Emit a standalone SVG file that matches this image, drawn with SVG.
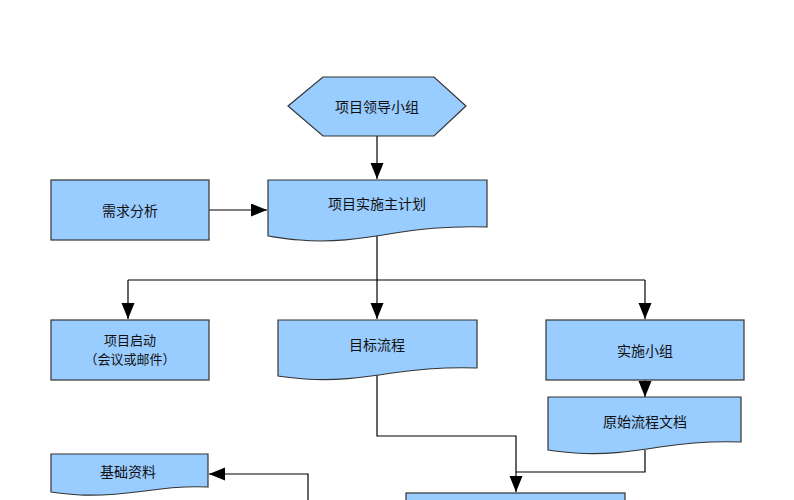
<svg xmlns="http://www.w3.org/2000/svg" width="794" height="500" viewBox="0 0 794 500">
<style>
.shape{fill:#99CCFF;stroke:#333333;stroke-width:1.2}
.lbl{font-family:"Noto Sans CJK SC","Noto Sans",sans-serif;font-size:14px;fill:#111111;text-anchor:middle;dominant-baseline:central}
.conn{fill:none;stroke:#000000;stroke-width:1.2}
</style>
<defs>
<marker id="arr" markerUnits="userSpaceOnUse" markerWidth="17" markerHeight="14" refX="16" refY="6.5" orient="auto">
<path d="M0,0 L16,6.5 L0,13 z" fill="#000000"/>
</marker>
</defs>
<rect width="794" height="500" fill="#ffffff"/>
<g id="connectors">
<path class="conn" d="M377,136 L377,179" marker-end="url(#arr)"/>
<path class="conn" d="M209,210 L267,210" marker-end="url(#arr)"/>
<path class="conn" d="M377,235 L377,280 M128,280 L645,280"/>
<path class="conn" d="M128,280 L128,319" marker-end="url(#arr)"/>
<path class="conn" d="M377,280 L377,319" marker-end="url(#arr)"/>
<path class="conn" d="M645,280 L645,319" marker-end="url(#arr)"/>
<path class="conn" d="M645,380 L645,397" marker-end="url(#arr)"/>
<path class="conn" d="M377,373 L377,436 L516,436 L516,492" marker-end="url(#arr)"/>
<path class="conn" d="M645,450 L645,472 L516,472"/>
<path class="conn" d="M308,500 L308,474 L209,474" marker-end="url(#arr)"/>
</g>
<g id="n_leader">
<polygon class="shape" points="288,106 323,77 434,77 466,106 434,136 323,136"/>
<text class="lbl" x="377" y="106">项目领导小组</text>
</g>
<g id="n_demand">
<rect class="shape" x="51" y="180" width="158" height="60"/>
<text class="lbl" x="130" y="210">需求分析</text>
</g>
<g id="n_plan">
<path class="shape" d="M268,180 L487,180 L487,227 C455,226 425,228 395,233 C360,239 330,243 300,240 C285,239 275,237 268,236 Z"/>
<text class="lbl" x="377" y="203">项目实施主计划</text>
</g>
<g id="n_start">
<rect class="shape" x="51" y="320" width="158" height="60"/>
<text class="lbl" x="130" y="339" style="font-size:13px">项目启动</text>
<text class="lbl" x="130" y="358.5" style="font-size:13px">（会议或邮件）</text>
</g>
<g id="n_target">
<path class="shape" d="M278,320 L477,320 L477,368 C448,367 420,369 392,373 C360,378 335,381 305,379 C292,378 284,377 278,376 Z"/>
<text class="lbl" x="377" y="344">目标流程</text>
</g>
<g id="n_team">
<rect class="shape" x="546" y="320" width="198" height="60"/>
<text class="lbl" x="645" y="350">实施小组</text>
</g>
<g id="n_orig">
<path class="shape" d="M548,397 L741,397 L741,442 C713,441 686,443 660,447 C628,452 605,455 575,453 C563,452 554,451 548,450 Z"/>
<text class="lbl" x="645" y="421">原始流程文档</text>
</g>
<g id="n_base">
<path class="shape" d="M51,454 L208,454 L208,487 C186,486 165,488 145,491 C122,494 104,496 80,495 C68,494 58,493 51,492 Z"/>
<text class="lbl" x="128" y="471">基础资料</text>
</g>
<g id="n_bottom">
<rect class="shape" x="406" y="493" width="219" height="20"/>
</g>
</svg>
